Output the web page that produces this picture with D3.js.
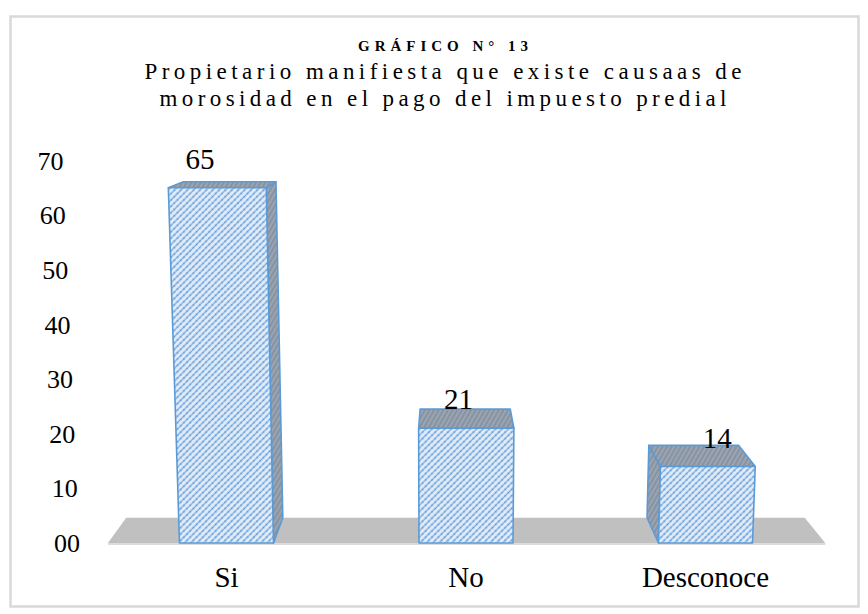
<!DOCTYPE html>
<html>
<head>
<meta charset="utf-8">
<script src="https://cdn.jsdelivr.net/npm/d3@7"></script>
<style>
  body { margin: 0; background: #fff; }
  text { font-family: "Liberation Serif", "Times New Roman", serif; fill: #000; }
</style>
</head>
<body>
<script>
// data
var categories = ["Si", "No", "Desconoce"];
var values = [65, 21, 14];
var tickValues = [0, 10, 20, 30, 40, 50, 60, 70];
var titleLines = [
    "Propietario manifiesta que existe causaas de",
    "morosidad en el pago del impuesto predial"
];
var chartNumber = "GRÁFICO N° 13";

var W = 868, H = 614;

var svg = d3.select("body").append("svg")
    .attr("width", W)
    .attr("height", H);

// patterns
var defs = svg.append("defs");
var pf = defs.append("pattern").attr("id", "front")
    .attr("patternUnits", "userSpaceOnUse")
    .attr("width", 4.5).attr("height", 4.5)
    .attr("patternTransform", "rotate(-45)");
pf.append("rect").attr("width", 4.5).attr("height", 4.5).attr("fill", "#e2edf9");
pf.append("line").attr("x1", 0).attr("y1", 1.3).attr("x2", 4.5).attr("y2", 1.3)
    .attr("stroke", "#82b0e2").attr("stroke-width", 1.4);
pf.append("circle").attr("cx", 2.2).attr("cy", 1.3).attr("r", 0.9).attr("fill", "#5d95d3");

var pd = defs.append("pattern").attr("id", "dark")
    .attr("patternUnits", "userSpaceOnUse")
    .attr("width", 4).attr("height", 4)
    .attr("patternTransform", "rotate(-60)");
pd.append("rect").attr("width", 4).attr("height", 4).attr("fill", "#9ea5ae");
pd.append("line").attr("x1", 0).attr("y1", 1).attr("x2", 4).attr("y2", 1)
    .attr("stroke", "#7f8895").attr("stroke-width", 1.3);
pd.append("circle").attr("cx", 2).attr("cy", 3).attr("r", 0.7).attr("fill", "#79a6d8");

// frame
svg.append("rect")
    .attr("x", 10.5).attr("y", 16.5)
    .attr("width", 848).attr("height", 590)
    .attr("fill", "#fff")
    .attr("stroke", "#d9d9d9")
    .attr("stroke-width", 2.5);

// scales (front plane)
var x = d3.scalePoint().domain(categories).range([226.5, 705.5]);
var y = d3.scaleLinear().domain([0, 70]).range([543, 160.5]);
var step = x.step();
var barW = 94;

// perspective: columns spread slightly going up, depth goes to a vanishing point
var vp = [446, 75], depthT = 0.054, spreadK = 0.000118;
function spread(px, py) {
    return [vp[0] + (px - vp[0]) * (1 + spreadK * (y(0) - py)), py];
}
function back(p) {
    return [p[0] + depthT * (vp[0] - p[0]), p[1] + depthT * (vp[1] - p[1])];
}
var line = d3.line();

// floor
var f0 = spread(x(categories[0]) - 0.495 * step, y(0));
var f1 = spread(x(categories[categories.length - 1]) + 0.5 * step, y(0));
svg.append("path")
    .attr("d", line([f0, f1, back(f1), back(f0)]) + "Z")
    .attr("fill", "#c0c0c0");
svg.append("line")
    .attr("x1", f0[0]).attr("x2", f1[0])
    .attr("y1", f0[1] + 1).attr("y2", f1[1] + 1)
    .attr("stroke", "#dcdcdc").attr("stroke-width", 2);

// y tick labels
svg.append("g").selectAll("text")
    .data(tickValues)
    .enter().append("text")
    .attr("x", function(d) { return spread(80, y(d))[0]; })
    .attr("y", function(d) { return y(d); })
    .attr("dy", "0.35em")
    .attr("text-anchor", "end")
    .attr("font-size", 26)
    .text(d3.format("02d"));

// bars
var bars = svg.append("g");
categories.forEach(function(c, i) {
    var v = values[i];
    var bl = spread(x(c) - barW / 2, y(0)),
        br = spread(x(c) + barW / 2, y(0)),
        tl = spread(x(c) - barW / 2, y(v)),
        tr = spread(x(c) + barW / 2, y(v));
    var g = bars.append("g")
        .attr("stroke", "#5b9bd5")
        .attr("stroke-width", 1.6)
        .attr("stroke-linejoin", "round");

    // side face toward the vanishing point
    if (tr[0] < vp[0]) {
        g.append("path").attr("d", line([tr, br, back(br), back(tr)]) + "Z")
            .attr("fill", "url(#dark)");
    } else if (tl[0] > vp[0]) {
        g.append("path").attr("d", line([tl, bl, back(bl), back(tl)]) + "Z")
            .attr("fill", "url(#dark)");
    }
    // top face
    g.append("path").attr("d", line([tl, tr, back(tr), back(tl)]) + "Z")
        .attr("fill", "url(#dark)");
    // front face
    g.append("path").attr("d", line([bl, br, tr, tl]) + "Z")
        .attr("fill", "url(#front)");
});

// value labels
svg.append("g").selectAll("text")
    .data(values)
    .enter().append("text")
    .attr("x", function(d, i) {
        var xc = x(categories[i]);
        return xc - 9 + (xc - vp[0]) * 0.08;
    })
    .attr("y", function(d) { return y(d) - 19; })
    .attr("text-anchor", "middle")
    .attr("font-size", 29)
    .text(function(d) { return d; });

// category labels
svg.append("g").selectAll("text")
    .data(categories)
    .enter().append("text")
    .attr("x", function(d) { return x(d); })
    .attr("y", 587)
    .attr("text-anchor", "middle")
    .attr("font-size", 29)
    .text(function(d) { return d; });

// title
svg.append("text")
    .attr("x", 443).attr("y", 51)
    .attr("text-anchor", "middle")
    .attr("font-size", 15)
    .attr("font-weight", "bold")
    .attr("textLength", 170)
    .attr("lengthAdjust", "spacing")
    .text(chartNumber);

svg.append("g").selectAll("text")
    .data(titleLines)
    .enter().append("text")
    .attr("x", 443)
    .attr("y", function(d, i) { return 79 + i * 27; })
    .attr("text-anchor", "middle")
    .attr("font-size", 23)
    .attr("textLength", function(d, i) { return i === 0 ? 597 : 567; })
    .attr("lengthAdjust", "spacing")
    .text(function(d) { return d; });
</script>
</body>
</html>
